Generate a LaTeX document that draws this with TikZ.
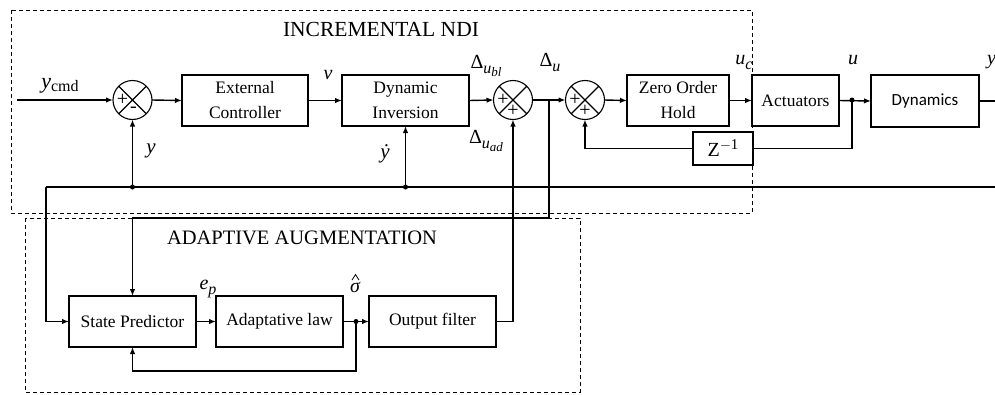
\documentclass[tikz,border=0pt]{standalone}
\usepackage{fontspec}
\setmainfont{Liberation Serif}
\newfontfamily\sansf{Carlito}
\usetikzlibrary{arrows.meta,calc}
\newcommand{\fsz}[1]{\fontsize{#1}{#1}\selectfont}
\newcommand{\lowr}[3]{\raisebox{-#1}{\fsz{#2}#3}}
\tikzset{
  blk/.style={draw, line width=1.1pt, inner sep=0pt, outer sep=0pt, align=center,
    font=\fontsize{17.5}{25}\selectfont},
  sumnode/.style={draw, circle, line width=1.1pt, minimum size=39pt, inner sep=0pt, outer sep=0pt,
    path picture={\draw[line width=1.1pt] (path picture bounding box.north west) -- (path picture bounding box.south east)
      (path picture bounding box.north east) -- (path picture bounding box.south west);}},
  sgn/.style={font=\fsz{20}, inner sep=0pt},
  conn/.style={line width=1.4pt},
  arr/.style={conn, -{Latex[length=7pt,width=5.5pt]}},
  lbl/.style={font=\fsz{20}\itshape, inner sep=0pt},
  title/.style={inner sep=0pt},
  grp/.style={draw, line width=0.8pt, dash pattern=on 4pt off 3pt},
  dotmark/.style={fill, circle, minimum size=5pt, inner sep=0pt}
}
\begin{document}
\begin{tikzpicture}[x=1pt,y=-1pt]
\useasboundingbox (0,0) rectangle (995,394);
% group frames
\draw[grp] (11,10) rectangle (752,213);
\draw[grp] (25,218) rectangle (580,392);
\node[title, font=\fsz{21.5}] (tinc) at (381,29) {INCREMENTAL NDI};
\node[title, font=\fsz{20.5}] (tada) at (302,238) {ADAPTIVE AUGMENTATION};
% blocks
\node[blk, minimum width=126pt, minimum height=51pt] (ec) at (245,100.5) {External\\Controller};
\node[blk, minimum width=127pt, minimum height=51pt] (di) at (405.5,100.5) {Dynamic\\Inversion};
\node[blk, minimum width=102pt, minimum height=51pt] (zoh) at (678,100.5) {Zero Order\\Hold};
\node[blk, minimum width=87pt, minimum height=51pt] (act) at (795.5,100.5) {Actuators};
\node[blk, minimum width=108pt, minimum height=52pt, font=\sansf\fsz{17}] (dyn) at (925,101) {Dynamics};
\node[blk, minimum width=60pt, minimum height=33pt, font=\fsz{20}] (z) at (723,148.5) {Z\raisebox{7pt}{\fsz{15}$-$1}};
\node[blk, minimum width=127pt, minimum height=51pt] (sp) at (132.5,321.5) {State Predictor};
\node[blk, minimum width=127pt, minimum height=51pt] (al) at (279.5,321.5) {Adaptative law};
\node[blk, minimum width=127pt, minimum height=51pt] (of) at (432.5,321.5) {Output filter};
% summing junctions
\node[sumnode] (s1) at (132.5,100) {};
\node[sumnode] (s2) at (513,100) {};
\node[sumnode] (s3) at (585,100) {};
\node[sgn] (s1a) at ($(s1)+(-10,0)$) {+};
\node[sgn] (s1b) at ($(s1)+(1,10)$) {-};
\node[sgn] (s2a) at ($(s2)+(-10,0)$) {+};
\node[sgn] (s2b) at ($(s2)+(0,11)$) {+};
\node[sgn] (s3a) at ($(s3)+(-10,0)$) {+};
\node[sgn] (s3b) at ($(s3)+(0,11)$) {+};
% coordinates
\coordinate (yin) at (17,100);
\coordinate (yout) at (995,101);
\coordinate (fbL) at (46,187);
\coordinate (fbR) at (995,187);
\coordinate (du) at (549,100);
\coordinate (m1) at (549,218);
\coordinate (ud) at (852,100);
\coordinate (sig) at (356,321.5);
\coordinate (sb) at (356,371);
% forward path
\draw[arr] (yin) -- (s1.west);
\draw[arr] (s1.east) -- (ec.west);
\draw[arr] (ec.east) -- (di.west);
\draw[arr] (di.east) -- (s2.west);
\draw[arr] (s2.east) -- (s3.west);
\draw[arr] (s3.east) -- (zoh.west);
\draw[arr] (zoh.east) -- (act.west);
\draw[arr] (act.east) -- (dyn.west);
\draw[conn] (dyn.east) -- (yout);
% feedback line
\draw[conn] (fbL) -- (fbR);
\draw[arr] (s1 |- fbR) -- (s1.south);
\draw[arr] (di.south |- fbR) -- (di.south);
\draw[arr] (fbL) |- (sp.west);
% delta u to state predictor
\draw[conn] (du) -- (m1);
\draw[arr] (m1) -| (sp.north);
% adaptive loop
\draw[arr] (sp.east) -- (al.west);
\draw[arr] (al.east) -- (of.west);
\draw[arr] (sig) -- (sb) -| (sp.south);
\draw[arr] (of.east) -| (s2.south);
% incremental loop
\draw[conn] (ud) |- (z.east);
\draw[arr] (z.west) -| (s3.south);
% dots
\node[dotmark] (d1) at (s1 |- fbR) {};
\node[dotmark] (d2) at (di.south |- fbR) {};
\node[dotmark] (d3) at (ud) {};
\node[dotmark] (d4) at (sig) {};
% labels
\node[lbl, font=\fsz{22}\itshape] (lycmd) at (60,86) {y\lowr{3pt}{16}{\upshape cmd}};
\node[lbl] (lv) at (328,75) {v};
\node[lbl] (lubl) at (486,66) {\upshape Δ\lowr{5pt}{16}{\itshape u\lowr{3pt}{13}{bl}}};
\node[lbl] (lu) at (550,62) {\upshape Δ\lowr{5pt}{16}{\itshape u}};
\node[lbl] (luad) at (486,141) {\upshape Δ\lowr{5pt}{16}{\itshape u\lowr{3pt}{13}{ad}}};
\node[lbl, font=\fsz{21}\itshape] (lydot) at (385,154) {\.{y}};
\node[lbl, font=\fsz{21}\itshape] (ly) at (151,151) {y};
\node[lbl] (luc) at (744,62) {u\lowr{5pt}{16}{c}};
\node[lbl] (luu) at (853,60) {u};
\node[lbl, anchor=west] (lyout) at (987,62) {y};
\node[lbl] (lep) at (208,289) {e\lowr{5pt}{16}{p}};
\node[lbl] (lsig) at (355,287) {σ};
\draw[line width=0.8pt] ($(lsig.north)+(-3,-1.5)$) -- ($(lsig.north)+(0.5,-7)$) -- ($(lsig.north)+(4,-1.5)$);
\end{tikzpicture}
\end{document}
